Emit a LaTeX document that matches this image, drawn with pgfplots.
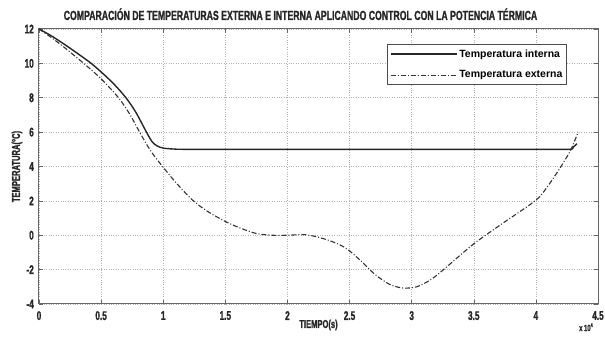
\documentclass[border=0pt]{standalone}
\usepackage{fontspec}
\setmainfont{Liberation Sans}
\newfontfamily\cond{Liberation Sans Bold}[FakeStretch=0.66, FakeBold=1.2]
\usepackage{pgfplots}
\pgfplotsset{compat=1.18}
\begin{document}
\begin{tikzpicture}
\useasboundingbox (-39pt,-33pt) rectangle (566pt,304pt);
\begin{axis}[
  scale only axis, width=559pt, height=275pt,
  at={(0pt,0pt)}, anchor=south west,
  xmin=0, xmax=4.5, ymin=-4, ymax=12,
  xtick={0,0.5,1,1.5,2,2.5,3,3.5,4,4.5},
  xticklabels={0,0.5,1,1.5,2,2.5,3,3.5,4,4.5},
  ytick={-4,-2,0,2,4,6,8,10,12},
  yticklabels={-4,-2,0,2,4,6,8,10,12},
  tick align=inside, major tick length=4pt,
  every tick/.style={black!60, line width=0.5pt},
  axis line style={black!60, line width=1pt},
  grid=major,
  major grid style={dotted, black!30, line width=0.5pt},
  ticklabel style={font=\cond\fontsize{12.5}{12.5}\selectfont, text=black!85},
  xticklabel style={inner sep=0pt, anchor=north, yshift=-7pt},
  yticklabel style={inner sep=0pt, anchor=east, xshift=-5pt},
  title={COMPARACIÓN DE TEMPERATURAS EXTERNA E INTERNA APLICANDO CONTROL CON LA POTENCIA TÉRMICA},
  title style={font=\cond\fontsize{13.2}{13.2}\selectfont, text=black!85, at={(axis description cs:0.5,1)}, anchor=base, yshift=3pt, xshift=-18pt, inner sep=0pt},
  xlabel={TIEMPO(s)},
  xlabel style={font=\cond\fontsize{11.5}{11.5}\selectfont, text=black!85, at={(axis description cs:0.5,-0.0764)}, anchor=center, inner sep=0pt},
  ylabel={TEMPERATURA(°C)},
  ylabel style={font=\cond\fontsize{11.5}{11.5}\selectfont, text=black!85, at={(axis description cs:-0.0394,0.5)}, anchor=center, rotate=0, inner sep=0pt},
  legend style={at={(axis description cs:0.9445,0.9455)}, anchor=north east,
    draw=black!70, line width=1.2pt, font=\bfseries\fontsize{10.5}{10.5}\selectfont,
    inner xsep=2pt, inner ysep=3pt, row sep=8pt, fill=white},
  legend cell align=left,
  legend image code/.code={\draw[#1] (0pt,0pt) -- (66pt,0pt);},
  clip=false,
]
\addplot[black!85, line width=1.4pt, smooth, tension=0.5] coordinates {
(0,12) (0.1,11.6) (0.2,11.13) (0.3,10.63) (0.42,10.0) (0.5,9.5) (0.6,8.82) (0.7,8.0) (0.78,7.15) (0.865,6.0) (0.91,5.45) (0.95,5.2) (1.0,5.07) (1.1,5.01) (1.2,5.0) (2.0,5.0) (3.0,5.0) (4.0,5.0) (4.27,5.0) (4.30,5.12) (4.33,5.33)
};
\addlegendentry{Temperatura interna}
\addplot[black!80, line width=1.1pt, dash pattern=on 5pt off 2pt on 1pt off 2pt, smooth, tension=0.5] coordinates {
(0,12) (0.1,11.5) (0.2,10.95) (0.36,10.0) (0.5,9.1) (0.64,8.0) (0.73,7.05) (0.81,6.0) (0.9,4.9) (1.0,3.95) (1.11,3.0) (1.235,2.05) (1.35,1.42) (1.5,0.8) (1.62,0.42) (1.75,0.1) (1.88,0.0) (2.0,0.0) (2.15,0.03) (2.3,-0.22) (2.42,-0.55) (2.5,-0.91) (2.6,-1.55) (2.7,-2.25) (2.82,-2.85) (2.93,-3.07) (3.04,-3.0) (3.15,-2.6) (3.25,-2.04) (3.5,-0.5) (3.75,0.78) (4.0,2.04) (4.1,2.9) (4.2,3.98) (4.28,4.95) (4.34,6.0)
};
\addlegendentry{Temperatura externa}
\node[font=\cond\fontsize{9}{9}\selectfont, text=black!85, inner sep=0pt] at (axis description cs:0.979,-0.084) {x\,10\textsuperscript{4}};
\end{axis}
\end{tikzpicture}
\end{document}
